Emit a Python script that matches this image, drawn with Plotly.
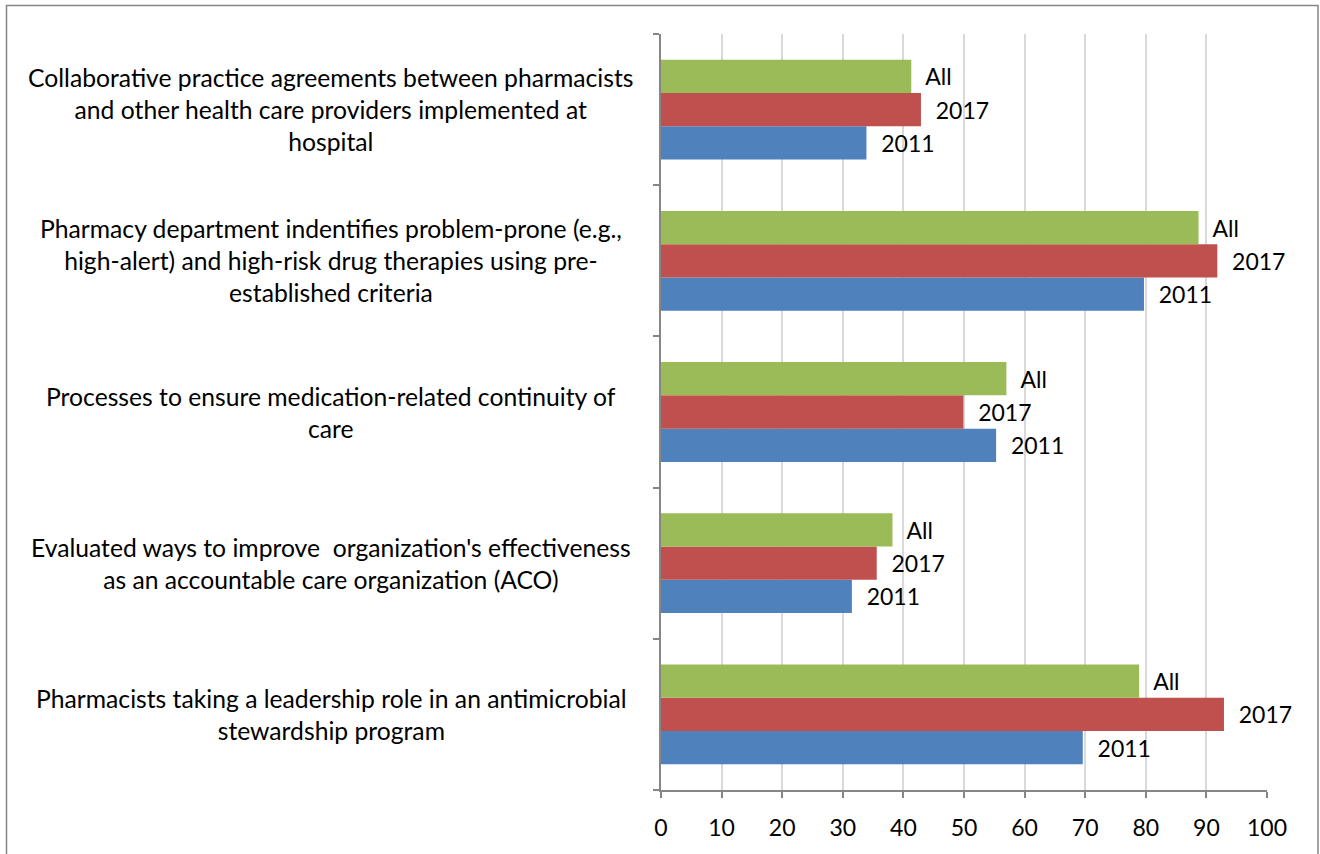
import plotly.graph_objects as go

categories = [
    "Collaborative practice agreements between pharmacists<br>and other health care providers implemented at<br>hospital",
    "Pharmacy department indentifies problem-prone (e.g.,<br>high-alert) and high-risk drug therapies using pre-<br>established criteria",
    "Processes to ensure medication-related continuity of<br>care",
    "Evaluated ways to improve  organization's effectiveness<br>as an accountable care organization (ACO)",
    "Pharmacists taking a leadership role in an antimicrobial<br>stewardship program",
]
cat_ids = ["c1", "c2", "c3", "c4", "c5"]
series_names = ["2011", "2017", "All"]
values_2011 = [33.9, 79.7, 55.3, 31.5, 69.6]
values_2017 = [42.9, 91.8, 49.9, 35.6, 92.9]
values_all = [41.3, 88.7, 57.0, 38.2, 78.9]
x_ticks = [0, 10, 20, 30, 40, 50, 60, 70, 80, 90, 100]

colors = ["#4F81BD", "#C0504D", "#9BBB59"]
FONT = "Lato"
FS = 23
FS_CAT = 24.7

fig = go.Figure()
for name, vals, col in zip(series_names, [values_2011, values_2017, values_all], colors):
    fig.add_trace(go.Bar(
        y=cat_ids, x=vals, orientation="h", name=name,
        marker=dict(color=col, line=dict(width=0)),
        text=["\u00a0\u00a0" + name] * len(vals),
        textposition="outside", cliponaxis=False, constraintext="none",
        textfont=dict(family=FONT, size=FS, color="#000000"),
        hoverinfo="x",
    ))

W, H = 1320, 854
ml, mr, mt, mb = 661, 53, 34, 64
pw = W - ml - mr
ph = H - mt - mb

annotations = []
for cid, label in zip(cat_ids, categories):
    annotations.append(dict(
        x=(331 - ml) / pw, xref="paper", y=cid, yref="y",
        text=label, showarrow=False, xanchor="center", yanchor="middle",
        align="center", font=dict(family=FONT, size=FS_CAT, color="#000000"),
    ))

fig.update_layout(
    width=W, height=H,
    margin=dict(l=ml, r=mr, t=mt, b=mb, pad=0),
    barmode="group", bargap=0.34, bargroupgap=0,
    showlegend=False,
    plot_bgcolor="white", paper_bgcolor="white",
    font=dict(family=FONT, size=FS, color="#000000"),
    annotations=annotations,
    xaxis=dict(
        range=[0, 100], tickvals=x_ticks, ticktext=[str(t) for t in x_ticks],
        showgrid=True, gridcolor="#D9D9D9", gridwidth=1.5,
        showline=True, linecolor="#868686", linewidth=1.5,
        ticks="outside", ticklen=6, tickcolor="#868686", tickwidth=1.5,
        ticklabelstandoff=11,
        zeroline=False, tickfont=dict(family=FONT, size=FS, color="#000000"),
    ),
    yaxis=dict(
        categoryorder="array", categoryarray=cat_ids[::-1],
        showticklabels=False, tickson="boundaries",
        ticks="outside", ticklen=6, tickcolor="#868686", tickwidth=1.5,
        showline=True, linecolor="#868686", linewidth=1.5,
        showgrid=False, zeroline=False,
    ),
    shapes=[dict(
        type="rect", xref="paper", yref="paper",
        x0=(6.5 - ml) / pw, x1=(1318 - ml) / pw,
        y0=(H - mb - 870) / ph, y1=(H - mb - 5.5) / ph,
        line=dict(color="#868686", width=1.5), layer="below",
    )],
)

fig.write_html(
    "out.html",
    config={"displayModeBar": False},
    post_script="document.body.style.margin='0px';document.body.style.overflow='hidden';",
)
